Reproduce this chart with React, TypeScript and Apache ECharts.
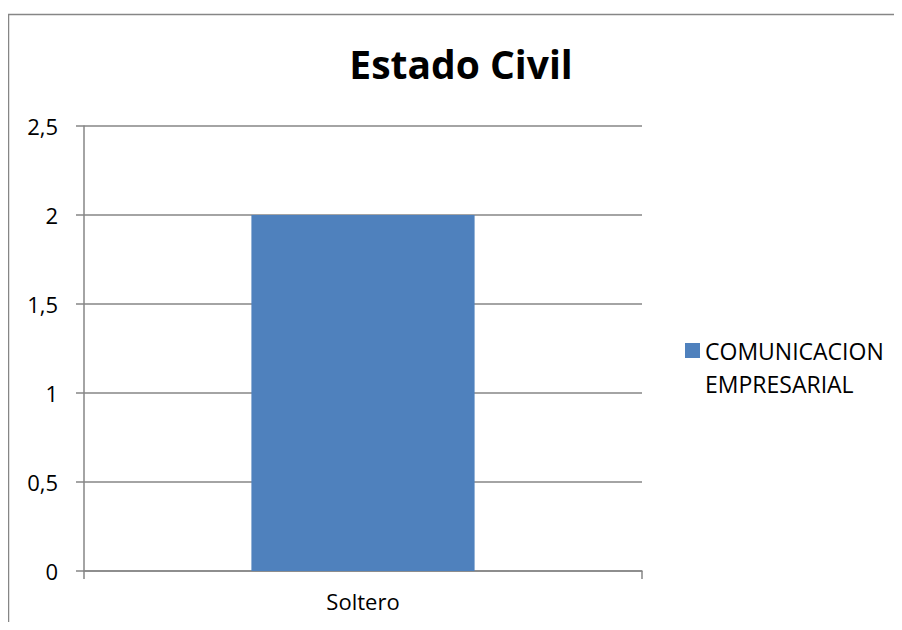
import React, { useEffect, useRef } from "react";
import * as echarts from "echarts";

const titleText = "Estado Civil";
const categories = ["Soltero"];
const seriesName = "COMUNICACION EMPRESARIAL";
const legendLines = ["COMUNICACION", "EMPRESARIAL"];
const seriesValues = [2];
const yTicks = { min: 0, max: 2.5, interval: 0.5 };

export default function App() {
  const ref = useRef<HTMLDivElement>(null);
  useEffect(() => {
    if (!ref.current) return;
    const chart = echarts.init(ref.current, undefined, { renderer: "svg" });
    const font = "'Open Sans', 'DejaVu Sans', sans-serif";
    const gray = "#868686";
    chart.setOption({
      animation: false,
      backgroundColor: "#ffffff",
      textStyle: { fontFamily: font },
      title: {
        text: titleText,
        left: 448,
        textAlign: "center",
        top: 31,
        textStyle: { fontFamily: font, fontWeight: "bold", fontSize: 39, color: "#000" },
      },
      graphic: [
        {
          type: "rect",
          shape: { x: 0.5, y: 6.5, width: 2000, height: 2000 },
          style: { fill: "none", stroke: gray, lineWidth: 1.5 },
          silent: true,
        },
      ],
      legend: {
        orient: "vertical",
        left: 672,
        top: 288,
        itemWidth: 15,
        itemHeight: 15,
        icon: "rect",
        data: [seriesName],
        formatter: () => " \n" + legendLines.join("\n"),
        textStyle: {
          fontFamily: font,
          fontSize: 23,
          color: "#000",
          lineHeight: 33,
        },
      },
      grid: { left: 76, right: 252, top: 118, bottom: 51, containLabel: false },
      xAxis: {
        type: "category",
        data: categories,
        axisLine: { show: true, lineStyle: { color: gray, width: 1.5 } },
        axisTick: { show: true, length: 8, lineStyle: { color: gray, width: 1.5 } },
        axisLabel: { fontFamily: font, fontSize: 22, color: "#000", margin: 19 },
        splitLine: { show: false },
      },
      yAxis: {
        type: "value",
        min: yTicks.min,
        max: yTicks.max,
        interval: yTicks.interval,
        axisLine: { show: true, lineStyle: { color: gray, width: 1.5 } },
        axisTick: { show: true, length: 8, lineStyle: { color: gray, width: 1.5 } },
        axisLabel: {
          fontFamily: font,
          fontSize: 22,
          color: "#000",
          margin: 26,
          formatter: (v: number) => String(v).replace(".", ","),
        },
        splitLine: { show: true, lineStyle: { color: gray, width: 1.5 } },
      },
      series: [
        {
          name: seriesName,
          type: "bar",
          data: seriesValues,
          barWidth: "40%",
          itemStyle: { color: "#4F81BD" },
        },
      ],
    });
    return () => chart.dispose();
  }, []);
  return <div ref={ref} style={{ width: 886, height: 614 }} />;
}
